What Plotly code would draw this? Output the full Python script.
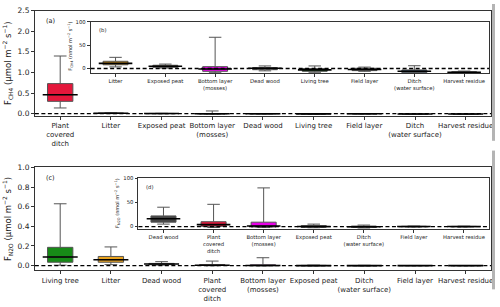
import plotly.graph_objects as go

W, H = 500, 307

# ---------------- data (nmol m-2 s-1) ----------------
ch4_cats = ["Plant covered ditch", "Litter", "Exposed peat", "Bottom layer (mosses)",
            "Dead wood", "Living tree", "Field layer", "Ditch (water surface)", "Harvest residue"]
ch4_lo  = [140, 3.5, 1.0, -9.0, -5.0, -8.0, -6.0, -10.0, -9.5]
ch4_q1  = [300, 8.0, 2.5, -6.0, -2.5, -6.0, -4.5, -9.0, -9.0]
ch4_med = [460, 11.0, 5.0, -1.0, 0.5, -3.0, -2.0, -6.0, -8.0]
ch4_q3  = [730, 15.5, 7.0, 4.0, 2.0, 0.0, 0.5, -3.0, -7.0]
ch4_hi  = [1400, 24.0, 9.5, 67.0, 5.5, 5.5, 3.0, 6.0, -5.5]
ch4_inset_cats = ch4_cats[1:]

n2o_cats = ["Living tree", "Litter", "Dead wood", "Plant covered ditch", "Bottom layer (mosses)",
            "Exposed peat", "Ditch (water surface)", "Field layer", "Harvest residue"]
n2o_lo  = [4, 10, 5, -2.0, -2.0, -2.5, -3.0, -1.0, -1.0]
n2o_q1  = [34, 34, 9, 0.5, -1.0, -2.0, -2.0, -0.5, -0.5]
n2o_med = [87, 60, 16, 4.0, 1.0, 0.0, -0.5, 0.0, 0.0]
n2o_q3  = [186, 93, 22, 10.0, 9.0, 2.0, 1.0, 0.5, 0.3]
n2o_hi  = [630, 190, 40, 46.0, 80.0, 5.0, 3.0, 1.0, 0.8]
n2o_inset_cats = n2o_cats[2:]

colors = {
    "Plant covered ditch": "#e5173b",
    "Litter": "#e8a21e",
    "Exposed peat": "#4a3606",
    "Bottom layer (mosses)": "#e800e8",
    "Dead wood": "#454545",
    "Living tree": "#178a17",
    "Field layer": "#2e2e2e",
    "Ditch (water surface)": "#36587a",
    "Harvest residue": "#505050",
}
labels = {
    "Plant covered ditch": "Plant<br>covered<br>ditch",
    "Bottom layer (mosses)": "Bottom layer<br>(mosses)",
    "Ditch (water surface)": "Ditch<br>(water surface)",
}

FONT = "DejaVu Sans"
fig = go.Figure()


def add_boxes(cats, allcats, lo, q1, med, q3, hi, scale, xa, ya, medsize):
    for c in cats:
        i = allcats.index(c)
        fig.add_trace(go.Box(
            x=[c], q1=[q1[i] * scale], median=[med[i] * scale], q3=[q3[i] * scale],
            lowerfence=[lo[i] * scale], upperfence=[hi[i] * scale],
            fillcolor=colors[c], line=dict(color="#555555", width=1),
            width=0.5, whiskerwidth=0.5, boxpoints=False, showlegend=False,
            xaxis=xa, yaxis=ya, hoverinfo="skip"))
    # median lines
    fig.add_trace(go.Scatter(
        x=cats, y=[med[allcats.index(c)] * scale for c in cats], mode="markers",
        marker=dict(symbol="line-ew", size=medsize, line=dict(color="black", width=1.6)),
        showlegend=False, xaxis=xa, yaxis=ya, hoverinfo="skip"))


add_boxes(ch4_cats, ch4_cats, ch4_lo, ch4_q1, ch4_med, ch4_q3, ch4_hi, 1e-3, "x", "y", 25)
add_boxes(ch4_inset_cats, ch4_cats, ch4_lo, ch4_q1, ch4_med, ch4_q3, ch4_hi, 1.0, "x2", "y2", 24)
add_boxes(n2o_cats, n2o_cats, n2o_lo, n2o_q1, n2o_med, n2o_q3, n2o_hi, 1e-3, "x3", "y3", 25)
add_boxes(n2o_inset_cats, n2o_cats, n2o_lo, n2o_q1, n2o_med, n2o_q3, n2o_hi, 1.0, "x4", "y4", 24)


def xd(px0, px1):
    return [px0 / W, px1 / W]


def yd(py_top, py_bot):
    return [1 - py_bot / H, 1 - py_top / H]


frame = dict(showline=True, mirror=True, linecolor="#333333", linewidth=0.8,
             showgrid=False, zeroline=False, ticks="outside", ticklen=3,
             tickcolor="#333333")


def xaxis(dom, anchor, cats, fs):
    return dict(domain=dom, anchor=anchor, type="category",
                categoryorder="array", categoryarray=cats,
                tickvals=cats, ticktext=[labels.get(c, c) for c in cats],
                range=[-0.5, len(cats) - 0.5], tickfont=dict(size=fs, family=FONT, color="#222"),
                tickangle=0, **frame)


def yaxis(dom, anchor, rng, vals, text, fs, title=None, tfs=8.5, standoff=4):
    d = dict(domain=dom, anchor=anchor, range=rng, tickvals=vals, ticktext=text,
             tickfont=dict(size=fs, family=FONT, color="#222"), **frame)
    if title:
        d["title"] = dict(text=title, font=dict(size=tfs, family=FONT, color="#222"),
                          standoff=standoff)
    return d


ch4_title = "F<sub>CH4</sub> (µmol m<sup>−2</sup> s<sup>−1</sup>)"
ch4_in_title = "F<sub>CH4</sub> (nmol m<sup>−2</sup> s<sup>−1</sup>)"
n2o_title = "F<sub>N2O</sub> (µmol m<sup>−2</sup> s<sup>−1</sup>)"
n2o_in_title = "F<sub>N2O</sub> (nmol m<sup>−2</sup> s<sup>−1</sup>)"

fig.update_layout(
    width=W, height=H, margin=dict(l=0, r=0, t=0, b=0),
    paper_bgcolor="white", plot_bgcolor="white", boxmode="overlay",
    font=dict(family=FONT, size=7, color="#222"),
    xaxis=xaxis(xd(35, 493), "y", ch4_cats, 7),
    yaxis=yaxis(yd(6.8, 114.4), "x", [-0.05, 2.5], [0, 0.5, 1, 1.5, 2, 2.5],
                ["0.0", "0.5", "1.0", "1.5", "2.0", "2.5"], 7.5, ch4_title),
    xaxis2=xaxis(xd(91, 491), "y2", ch4_inset_cats, 5.3),
    yaxis2=yaxis(yd(18.3, 70.8), "x2", [-10, 100], [0, 50, 100], ["0", "50", "100"], 5.3),
    xaxis3=xaxis(xd(35, 493), "y3", n2o_cats, 7),
    yaxis3=yaxis(yd(167.3, 272.7), "x3", [-0.05, 1.0], [0, 0.2, 0.4, 0.6, 0.8, 1.0],
                 ["0.0", "0.2", "0.4", "0.6", "0.8", "1.0"], 7.5, n2o_title),
    xaxis4=xaxis(xd(139, 491), "y4", n2o_inset_cats, 5.3),
    yaxis4=yaxis(yd(178.3, 230.2), "x4", [-5, 100], [0, 50, 100], ["0", "50", "100"], 5.3),
)

# inset y-axis titles
for txt, px, py in [(ch4_in_title, 70, 43), (n2o_in_title, 118, 204)]:
    fig.add_annotation(text=txt, xref="paper", yref="paper", x=px / W, y=1 - py / H,
                       xanchor="center", yanchor="middle", textangle=-90, showarrow=False,
                       font=dict(size=5, family=FONT, color="#222"))

for xa, ya in [("x", "y"), ("x2", "y2"), ("x3", "y3"), ("x4", "y4")]:
    fig.add_shape(type="line", xref=f"{xa} domain", yref=ya, x0=0, x1=1, y0=0, y1=0,
                  line=dict(color="black", width=1.3, dash="4px,2.5px"))

# grey strip at the right edge of the figure
for y0, y1 in [(0, 140), (150, 292)]:
    fig.add_shape(type="rect", xref="paper", yref="paper", x0=494 / W, x1=497 / W,
                  y0=1 - y1 / H, y1=1 - y0 / H, line=dict(width=0), fillcolor="#b4b4b4")

for txt, xa, ya, x, y, fs in [("(a)", "x", "y", 0.02, 0.96, 6.5), ("(b)", "x2", "y2", 0.015, 0.93, 5.3),
                              ("(c)", "x3", "y3", 0.02, 0.96, 6.5), ("(d)", "x4", "y4", 0.015, 0.93, 5.3)]:
    fig.add_annotation(text=txt, xref=f"{xa} domain", yref=f"{ya} domain", x=x, y=y,
                       xanchor="left", yanchor="top", showarrow=False,
                       font=dict(size=fs, family=FONT, color="#222"))

fig.write_html("out.html", config={"displayModeBar": False},
               post_script="document.body.style.margin='0';")
